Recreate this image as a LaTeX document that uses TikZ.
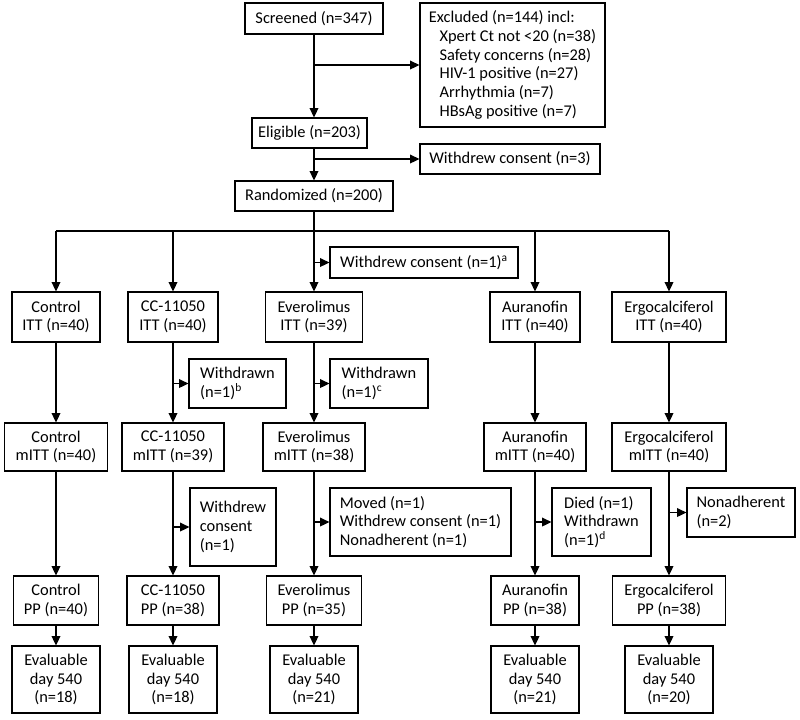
\documentclass[tikz,border=0pt]{standalone}
\usepackage{fontspec}
\setmainfont{Carlito}
\usepackage{tikz}
\usetikzlibrary{arrows.meta,positioning,calc}

\begin{document}
\begin{tikzpicture}[
  x=0.75pt, y=-0.75pt,
  font=\fontsize{12.3}{14.1}\selectfont,
  flowbox/.style={draw, line width=0.9pt, align=center, inner sep=0pt},
  sidebox/.style={draw, line width=0.9pt, align=left, inner sep=0pt},
  ar/.style={-{Triangle[length=7pt, width=6.5pt]}, line width=1.2pt},
  ln/.style={line width=1.2pt},
]
\useasboundingbox (0,0) rectangle (800,719);
% screening
\node[flowbox, minimum width=103.5pt, minimum height=23.25pt] (screen) at (314,18.5) {Screened (n=347)};
\node[sidebox, minimum width=138.75pt, minimum height=93pt] (excl) at (512.5,65) {Excluded (n=144) incl:\\
  \hspace*{8pt}Xpert Ct not <20 (n=38)\\
  \hspace*{8pt}Safety concerns (n=28)\\
  \hspace*{8pt}HIV-1 positive (n=27)\\
  \hspace*{8pt}Arrhythmia (n=7)\\
  \hspace*{8pt}HBsAg positive (n=7)};
\node[flowbox, minimum width=86.25pt, minimum height=22.5pt] (elig) at (309.5,133) {Eligible (n=203)};
\node[flowbox, minimum width=135pt, minimum height=22.5pt] (wd3) at (510,159) {Withdrew consent (n=3)};
\node[flowbox, minimum width=118.5pt, minimum height=22.5pt] (rand) at (314,196) {Randomized (n=200)};
\coordinate (split) at (314,231);
\node[flowbox, minimum width=141pt, minimum height=23.25pt] (wda) at (424,262.5) {Withdrew consent (n=1)\textsuperscript{a}};
% ITT
\node[flowbox, minimum width=66pt, minimum height=37.5pt] (ctrlI) at (56,317) {Control\\ITT (n=40)};
\node[flowbox, minimum width=67.5pt, minimum height=37.5pt] (ccI) at (173,317) {CC-11050\\ITT (n=40)};
\node[flowbox, minimum width=72.75pt, minimum height=37.5pt] (evI) at (314,317) {Everolimus\\ITT (n=39)};
\node[flowbox, minimum width=67.5pt, minimum height=37.5pt] (auI) at (535,317) {Auranofin\\ITT (n=40)};
\node[flowbox, minimum width=85.5pt, minimum height=37.5pt] (ergI) at (669,317) {Ergocalciferol\\ITT (n=40)};
\node[sidebox, minimum width=72.75pt, minimum height=36.75pt] (wdb) at (237.5,383.5) {Withdrawn\\(n=1)\textsuperscript{b}};
\node[sidebox, minimum width=73.5pt, minimum height=36.75pt] (wdc) at (379,383.5) {Withdrawn\\(n=1)\textsuperscript{c}};
% mITT
\node[flowbox, minimum width=77.25pt, minimum height=36pt] (ctrlM) at (56,447) {Control\\mITT (n=40)};
\node[flowbox, minimum width=76.5pt, minimum height=36pt] (ccM) at (173,447) {CC-11050\\mITT (n=39)};
\node[flowbox, minimum width=76.5pt, minimum height=36pt] (evM) at (314,447) {Everolimus\\mITT (n=38)};
\node[flowbox, minimum width=76.5pt, minimum height=36pt] (auM) at (535,447) {Auranofin\\mITT (n=40)};
\node[flowbox, minimum width=85.5pt, minimum height=36pt] (ergM) at (669,447) {Ergocalciferol\\mITT (n=40)};
\node[sidebox, minimum width=64.5pt, minimum height=58.5pt] (wdcons) at (233,527) {Withdrew\\ consent\\(n=1)};
\node[sidebox, minimum width=135.75pt, minimum height=51pt] (moved) at (420.5,522) {Moved (n=1)\\Withdrew consent (n=1)\\Nonadherent (n=1)};
\node[sidebox, minimum width=74.25pt, minimum height=51pt] (died) at (601.5,522) {Died (n=1)\\Withdrawn\\(n=1)\textsuperscript{d}};
\node[sidebox, minimum width=81pt, minimum height=36.75pt] (nonadh) at (741,512.5) {Nonadherent\\(n=2)};
% PP
\node[flowbox, minimum width=63.75pt, minimum height=36.75pt] (ctrlP) at (56,600.5) {Control\\PP (n=40)};
\node[flowbox, minimum width=69pt, minimum height=36.75pt] (ccP) at (173,600.5) {CC-11050\\PP (n=38)};
\node[flowbox, minimum width=71.25pt, minimum height=36.75pt] (evP) at (314,600.5) {Everolimus\\PP (n=35)};
\node[flowbox, minimum width=66pt, minimum height=36.75pt] (auP) at (535,600.5) {Auranofin\\PP (n=38)};
\node[flowbox, minimum width=84.75pt, minimum height=36.75pt] (ergP) at (669,600.5) {Ergocalciferol\\PP (n=38)};
% evaluable
\node[flowbox, minimum width=66pt, minimum height=50.25pt] (ctrlE) at (56,679.5) {Evaluable\\day 540\\ (n=18)};
\node[flowbox, minimum width=66pt, minimum height=50.25pt] (ccE) at (173,679.5) {Evaluable\\day 540\\ (n=18)};
\node[flowbox, minimum width=66pt, minimum height=50.25pt] (evE) at (314,679.5) {Evaluable\\day 540\\ (n=21)};
\node[flowbox, minimum width=66pt, minimum height=50.25pt] (auE) at (535,679.5) {Evaluable\\day 540\\ (n=21)};
\node[flowbox, minimum width=66pt, minimum height=50.25pt] (ergE) at (669,679.5) {Evaluable\\day 540\\ (n=20)};
% connectors
\draw[ar] (screen.south) -- (screen.south |- elig.north);
\draw[ar] (screen.south |- excl.west) -- (excl.west);
\draw[ar] (screen.south |- elig.south) -- (rand.north);
\draw[ar] (rand.north |- wd3.west) -- (wd3.west);
\draw[ln] (rand.south) -- (split);
\draw[ln] (ctrlI.north |- split) -- (ergI.north |- split);
\draw[ar] (ctrlI.north |- split) -- (ctrlI.north); \draw[ar] (ccI.north |- split) -- (ccI.north);
\draw[ar] (split) -- (evI.north); \draw[ar] (auI.north |- split) -- (auI.north);
\draw[ar] (ergI.north |- split) -- (ergI.north);
\draw[ar] (split |- wda.west) -- (wda.west);
\draw[ar] (ctrlI) -- (ctrlM); \draw[ar] (ccI) -- (ccM); \draw[ar] (evI) -- (evM);
\draw[ar] (auI) -- (auM); \draw[ar] (ergI) -- (ergM);
\draw[ar] (ccI.south |- wdb.west) -- (wdb.west); \draw[ar] (evI.south |- wdc.west) -- (wdc.west);
\draw[ar] (ctrlM) -- (ctrlP); \draw[ar] (ccM) -- (ccP); \draw[ar] (evM) -- (evP);
\draw[ar] (auM) -- (auP); \draw[ar] (ergM) -- (ergP);
\draw[ar] (ccM.south |- wdcons.west) -- (wdcons.west); \draw[ar] (evM.south |- moved.west) -- (moved.west);
\draw[ar] (auM.south |- died.west) -- (died.west); \draw[ar] (ergM.south |- nonadh.west) -- (nonadh.west);
\draw[ar] (ctrlP) -- (ctrlE); \draw[ar] (ccP) -- (ccE); \draw[ar] (evP) -- (evE);
\draw[ar] (auP) -- (auE); \draw[ar] (ergP) -- (ergE);
\end{tikzpicture}
\end{document}
